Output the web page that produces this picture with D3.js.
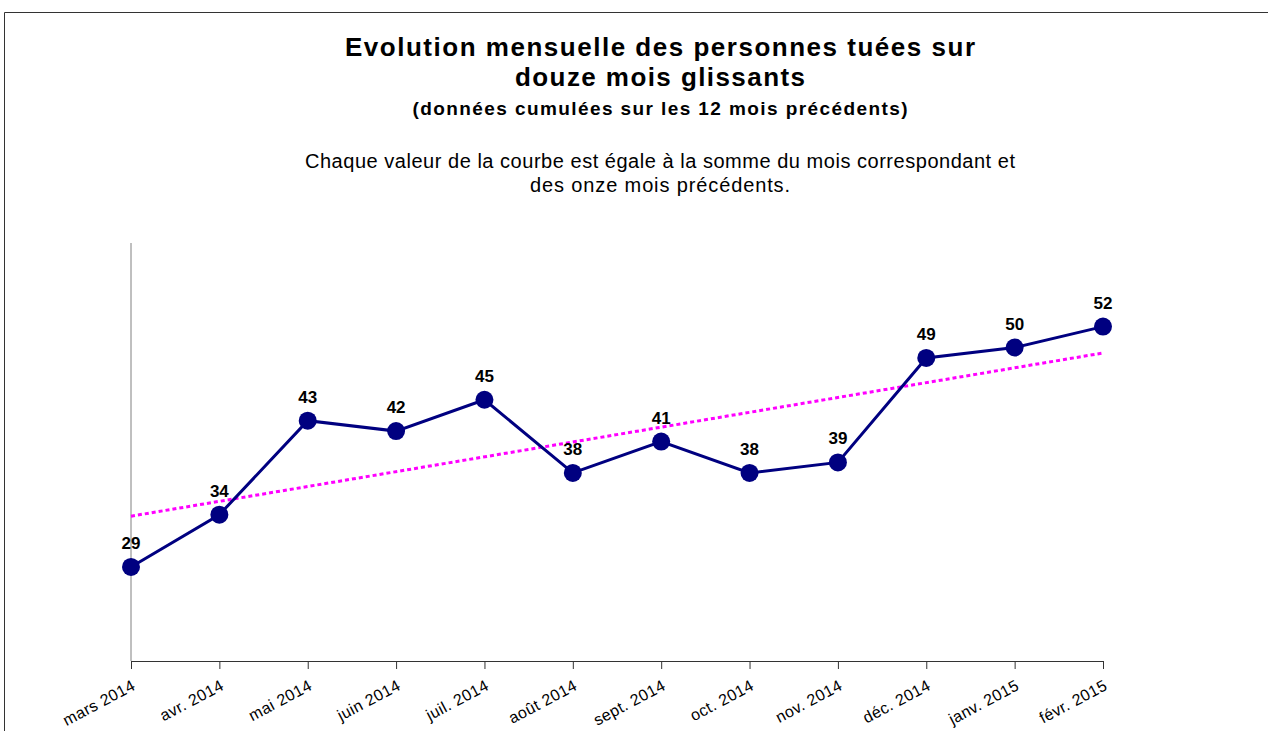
<!DOCTYPE html>
<html>
<head>
<meta charset="utf-8">
<script src="https://cdn.jsdelivr.net/npm/d3@7"></script>
<style>
  body { margin: 0; background: #fff; }
  svg { display: block; font-family: "Liberation Sans", Arial, sans-serif; }
</style>
</head>
<body>
<svg width="1268" height="731"></svg>
<script>
const months = ['mars 2014', 'avr. 2014', 'mai 2014', 'juin 2014', 'juil. 2014', 'août 2014',
  'sept. 2014', 'oct. 2014', 'nov. 2014', 'déc. 2014', 'janv. 2015', 'févr. 2015'];
const tues = [29, 34, 43, 42, 45, 38, 41, 38, 39, 49, 50, 52];
const yDomain = [20, 60];

const svg = d3.select('svg');

// cadre
svg.append('path')
  .attr('d', 'M4.5,731 V12.5 H1268')
  .attr('fill', 'none')
  .attr('stroke', '#333')
  .attr('stroke-width', 1);

const titres = [
  { t: 'Evolution mensuelle des personnes tuées sur', y: 56, size: 26, bold: true, w: 630 },
  { t: 'douze mois glissants', y: 86, size: 26, bold: true, w: 290 },
  { t: '(données cumulées sur les 12 mois précédents)', y: 115, size: 19, bold: true, w: 495 },
  { t: 'Chaque valeur de la courbe est égale à la somme du mois correspondant et', y: 168, size: 20, bold: false, w: 710 },
  { t: 'des onze mois précédents.', y: 192, size: 20, bold: false, w: 260 }
];
svg.append('g').selectAll('text').data(titres).enter().append('text')
  .attr('x', d => 660 - d.w / 2)
  .attr('y', d => d.y)
  .attr('font-size', d => d.size)
  .attr('font-weight', d => d.bold ? 'bold' : 'normal')
  .attr('textLength', d => d.w)
  .attr('lengthAdjust', 'spacing')
  .text(d => d.t);

const x = d3.scalePoint().domain(months).range([131, 1103]);
const y = d3.scaleLinear().domain(yDomain).range([661, 243]);

// axe vertical (sans graduations)
svg.append('line')
  .attr('x1', 131).attr('x2', 131)
  .attr('y1', y(yDomain[1])).attr('y2', y(yDomain[0]))
  .attr('stroke', '#808080').attr('stroke-width', 1);

// axe horizontal
const xAxis = svg.append('g')
  .attr('transform', 'translate(0,661)')
  .call(d3.axisBottom(x).tickSize(8).tickSizeOuter(0));
xAxis.select('.domain').attr('stroke', '#333');
xAxis.selectAll('.tick line').attr('stroke', '#333');
xAxis.selectAll('.tick text')
  .attr('font-family', '"Liberation Sans", Arial, sans-serif')
  .attr('font-size', 16)
  .attr('letter-spacing', 0.4)
  .attr('fill', '#000')
  .attr('text-anchor', 'end')
  .attr('dy', null)
  .attr('y', 0)
  .attr('transform', 'translate(5,28) rotate(-28)');

// tendance linéaire (moindres carrés)
const idx = tues.map((d, i) => i);
const mx = d3.mean(idx), my = d3.mean(tues);
const pente = d3.sum(idx, i => (i - mx) * (tues[i] - my)) / d3.sum(idx, i => (i - mx) * (i - mx));
const orig = my - pente * mx;
svg.append('line')
  .attr('x1', x(months[0])).attr('y1', y(orig))
  .attr('x2', x(months[months.length - 1])).attr('y2', y(orig + pente * (months.length - 1)))
  .attr('stroke', '#ff00ff')
  .attr('stroke-width', 3)
  .attr('stroke-dasharray', '4,3');

// courbe
const ligne = d3.line().x((d, i) => x(months[i])).y(d => y(d));
svg.append('path')
  .datum(tues)
  .attr('d', ligne)
  .attr('fill', 'none')
  .attr('stroke', '#000080')
  .attr('stroke-width', 3);

svg.selectAll('circle.pt').data(tues).enter().append('circle')
  .attr('class', 'pt')
  .attr('cx', (d, i) => x(months[i]))
  .attr('cy', d => y(d))
  .attr('r', 9)
  .attr('fill', '#000080');

svg.selectAll('text.val').data(tues).enter().append('text')
  .attr('class', 'val')
  .attr('x', (d, i) => x(months[i]))
  .attr('y', d => y(d) - 18)
  .attr('text-anchor', 'middle')
  .attr('font-size', 17)
  .attr('font-weight', 'bold')
  .text(d => d);
</script>
</body>
</html>
